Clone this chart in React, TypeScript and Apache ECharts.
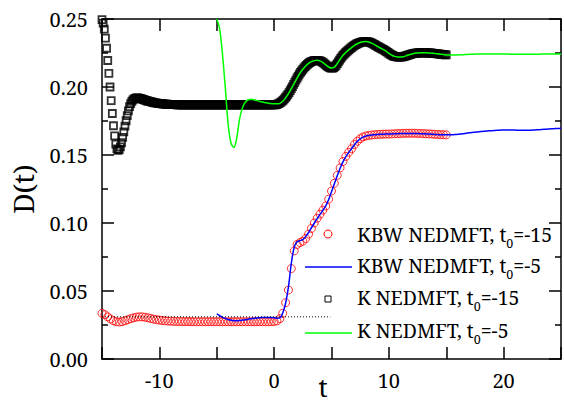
import React, { useEffect, useRef } from "react";
import * as echarts from "echarts";

const X_LABELS = [-10, 0, 10, 20];
const FONT = "Noto Serif";

// K NEDMFT, t0=-15 : t from -15 to 15, step 0.1
const K15_START = -15;
const K15_STEP = 0.1;
const K15_VALUES = [
  0.2495, 0.2470, 0.2425, 0.2360, 0.2285, 0.2195, 0.2100, 0.2000, 0.1900, 0.1805,
  0.1715, 0.1640, 0.1580, 0.1545, 0.1535, 0.1540, 0.1560, 0.1590, 0.1630, 0.1670,
  0.1712, 0.1752, 0.1790, 0.1825, 0.1855, 0.1878, 0.1895, 0.1906, 0.1913, 0.1917,
  0.1919, 0.1919, 0.1918, 0.1916, 0.1914, 0.1911, 0.1908, 0.1905, 0.1902, 0.1899,
  0.1897, 0.1894, 0.1892, 0.1890, 0.1888, 0.1886, 0.1884, 0.1883, 0.1881, 0.1880,
  0.1879, 0.1878, 0.1877, 0.1876, 0.1875, 0.1874, 0.1873, 0.1873, 0.1872, 0.1872,
  0.1871, 0.1871, 0.1870, 0.1870, 0.1870, 0.1869, 0.1869, 0.1869, 0.1869, 0.1868,
  0.1868, 0.1868, 0.1868, 0.1868, 0.1868, 0.1868, 0.1868, 0.1868, 0.1868, 0.1868,
  0.1868, 0.1868, 0.1868, 0.1868, 0.1868, 0.1868, 0.1868, 0.1868, 0.1868, 0.1868,
  0.1868, 0.1868, 0.1868, 0.1868, 0.1868, 0.1868, 0.1868, 0.1868, 0.1868, 0.1868,
  0.1868, 0.1868, 0.1868, 0.1868, 0.1868, 0.1868, 0.1868, 0.1868, 0.1868, 0.1868,
  0.1868, 0.1868, 0.1868, 0.1868, 0.1868, 0.1868, 0.1868, 0.1868, 0.1868, 0.1868,
  0.1868, 0.1868, 0.1868, 0.1868, 0.1868, 0.1868, 0.1868, 0.1868, 0.1868, 0.1868,
  0.1868, 0.1868, 0.1868, 0.1868, 0.1868, 0.1868, 0.1868, 0.1868, 0.1868, 0.1868,
  0.1868, 0.1868, 0.1868, 0.1868, 0.1868, 0.1868, 0.1868, 0.1868, 0.1868, 0.1868,
  0.1868, 0.1869, 0.1871, 0.1874, 0.1878, 0.1883, 0.1889, 0.1896, 0.1904, 0.1913,
  0.1923, 0.1934, 0.1946, 0.1959, 0.1973, 0.1988, 0.2003, 0.2019, 0.2035, 0.2051,
  0.2066, 0.2080, 0.2094, 0.2107, 0.2119, 0.2130, 0.2140, 0.2150, 0.2159, 0.2167,
  0.2174, 0.2180, 0.2185, 0.2189, 0.2192, 0.2194, 0.2196, 0.2196, 0.2196, 0.2194,
  0.2192, 0.2188, 0.2183, 0.2177, 0.2170, 0.2163, 0.2156, 0.2150, 0.2145, 0.2141,
  0.2139, 0.2139, 0.2143, 0.2150, 0.2160, 0.2172, 0.2185, 0.2198, 0.2210, 0.2222,
  0.2233, 0.2242, 0.2250, 0.2258, 0.2266, 0.2273, 0.2280, 0.2287, 0.2294, 0.2300,
  0.2306, 0.2311, 0.2316, 0.2320, 0.2324, 0.2327, 0.2330, 0.2332, 0.2333, 0.2334,
  0.2334, 0.2333, 0.2332, 0.2330, 0.2327, 0.2323, 0.2319, 0.2314, 0.2309, 0.2304,
  0.2299, 0.2294, 0.2289, 0.2285, 0.2281, 0.2276, 0.2271, 0.2266, 0.2260, 0.2254,
  0.2248, 0.2242, 0.2237, 0.2232, 0.2228, 0.2225, 0.2223, 0.2221, 0.2220, 0.2220,
  0.2220, 0.2221, 0.2222, 0.2224, 0.2227, 0.2229, 0.2232, 0.2235, 0.2238, 0.2240,
  0.2243, 0.2245, 0.2247, 0.2248, 0.2249, 0.2250, 0.2251, 0.2252, 0.2252, 0.2252,
  0.2252, 0.2252, 0.2252, 0.2251, 0.2251, 0.2250, 0.2250, 0.2249, 0.2248, 0.2247,
  0.2246, 0.2245, 0.2244, 0.2243, 0.2242, 0.2241, 0.2240, 0.2239, 0.2238, 0.2237,
  0.2236,
];

// K NEDMFT, t0=-5 : t from -5 to 25, step 0.25
const K5_START = -5;
const K5_STEP = 0.25;
const K5_VALUES = [
  0.2500, 0.2430, 0.2240, 0.1990, 0.1720, 0.1585, 0.1555, 0.1630, 0.1770, 0.1850,
  0.1890, 0.1906, 0.1910, 0.1906, 0.1900, 0.1894, 0.1889, 0.1885, 0.1881, 0.1878,
  0.1876, 0.1876, 0.1880, 0.1895, 0.1920, 0.1952, 0.1988, 0.2027, 0.2066, 0.2101,
  0.2130, 0.2155, 0.2174, 0.2187, 0.2194, 0.2196, 0.2192, 0.2180, 0.2163, 0.2147,
  0.2139, 0.2146, 0.2172, 0.2204, 0.2233, 0.2254, 0.2273, 0.2290, 0.2306, 0.2318,
  0.2327, 0.2333, 0.2334, 0.2331, 0.2323, 0.2312, 0.2299, 0.2287, 0.2276, 0.2263,
  0.2248, 0.2235, 0.2225, 0.2221, 0.2220, 0.2223, 0.2229, 0.2237, 0.2243, 0.2248,
  0.2250, 0.2252, 0.2252, 0.2251, 0.2250, 0.2249, 0.2246, 0.2244, 0.2241, 0.2239,
  0.2236, 0.2235, 0.2235, 0.2235, 0.2236, 0.2237, 0.2238, 0.2239, 0.2240, 0.2241,
  0.2242, 0.2242, 0.2243, 0.2243, 0.2243, 0.2243, 0.2243, 0.2243, 0.2243, 0.2243,
  0.2243, 0.2242, 0.2242, 0.2241, 0.2241, 0.2240, 0.2240, 0.2240, 0.2240, 0.2240,
  0.2241, 0.2241, 0.2241, 0.2242, 0.2242, 0.2242, 0.2242, 0.2243, 0.2243, 0.2243,
  0.2243,
];

// KBW NEDMFT, t0=-15 : t from -15 to 15, step 0.25
const KBW15_START = -15;
const KBW15_STEP = 0.25;
const KBW15_VALUES = [
  0.0336, 0.0326, 0.0310, 0.0294, 0.0281, 0.0274, 0.0272, 0.0275, 0.0281, 0.0289,
  0.0297, 0.0303, 0.0308, 0.0310, 0.0310, 0.0307, 0.0303, 0.0298, 0.0293, 0.0289,
  0.0286, 0.0283, 0.0281, 0.0279, 0.0278, 0.0277, 0.0276, 0.0276, 0.0275, 0.0275,
  0.0275, 0.0275, 0.0274, 0.0274, 0.0274, 0.0274, 0.0274, 0.0274, 0.0274, 0.0274,
  0.0274, 0.0274, 0.0274, 0.0274, 0.0274, 0.0274, 0.0274, 0.0274, 0.0274, 0.0274,
  0.0274, 0.0274, 0.0274, 0.0274, 0.0274, 0.0274, 0.0274, 0.0274, 0.0274, 0.0275,
  0.0276, 0.0280, 0.0296, 0.0336, 0.0414, 0.0507, 0.0665, 0.0795, 0.0842, 0.0856,
  0.0866, 0.0886, 0.0918, 0.0960, 0.1000, 0.1035, 0.1065, 0.1095, 0.1125, 0.1175,
  0.1235, 0.1292, 0.1350, 0.1405, 0.1452, 0.1490, 0.1520, 0.1546, 0.1577, 0.1601,
  0.1620, 0.1633, 0.1640, 0.1644, 0.1647, 0.1649, 0.1651, 0.1652, 0.1653, 0.1654,
  0.1654, 0.1655, 0.1656, 0.1657, 0.1658, 0.1659, 0.1660, 0.1660, 0.1660, 0.1660,
  0.1659, 0.1658, 0.1657, 0.1656, 0.1655, 0.1654, 0.1652, 0.1651, 0.1650, 0.1649,
  0.1648,
];

// KBW NEDMFT, t0=-5 : t from -5 to 25, step 0.25
const KBW5_START = -5;
const KBW5_STEP = 0.25;
const KBW5_VALUES = [
  0.0331, 0.0318, 0.0306, 0.0297, 0.0290, 0.0285, 0.0282, 0.0281, 0.0283, 0.0286,
  0.0289, 0.0293, 0.0296, 0.0299, 0.0302, 0.0304, 0.0306, 0.0306, 0.0306, 0.0305,
  0.0303, 0.0300, 0.0302, 0.0338, 0.0410, 0.0530, 0.0705, 0.0822, 0.0862, 0.0870,
  0.0878, 0.0900, 0.0930, 0.0965, 0.0998, 0.1032, 0.1063, 0.1094, 0.1126, 0.1172,
  0.1230, 0.1288, 0.1347, 0.1402, 0.1450, 0.1488, 0.1519, 0.1546, 0.1576, 0.1600,
  0.1619, 0.1632, 0.1640, 0.1644, 0.1647, 0.1649, 0.1651, 0.1652, 0.1653, 0.1654,
  0.1654, 0.1655, 0.1656, 0.1657, 0.1658, 0.1659, 0.1659, 0.1659, 0.1659, 0.1659,
  0.1658, 0.1657, 0.1656, 0.1655, 0.1654, 0.1653, 0.1651, 0.1650, 0.1649, 0.1648,
  0.1648, 0.1648, 0.1649, 0.1650, 0.1652, 0.1654, 0.1657, 0.1660, 0.1663, 0.1666,
  0.1668, 0.1670, 0.1672, 0.1674, 0.1676, 0.1678, 0.1679, 0.1681, 0.1682, 0.1683,
  0.1684, 0.1684, 0.1684, 0.1683, 0.1683, 0.1682, 0.1682, 0.1682, 0.1682, 0.1682,
  0.1683, 0.1684, 0.1686, 0.1687, 0.1689, 0.1690, 0.1692, 0.1693, 0.1694, 0.1695,
  0.1696,
];

// dotted reference level
const REF_T = [-15, 4.9];
const REF_D = [0.031, 0.031];

const LEGEND_LABELS = [
  ["KBW NEDMFT, t", "0", "=-15"],
  ["KBW NEDMFT, t", "0", "=-5"],
  ["K NEDMFT, t", "0", "=-15"],
  ["K NEDMFT, t", "0", "=-5"],
];

const pairs = (start: number, step: number, vals: number[]) =>
  vals.map((v, i) => [Math.round((start + step * i) * 1000) / 1000, v]);

export default function App() {
  const ref = useRef<HTMLDivElement>(null);
  useEffect(() => {
    if (!ref.current) return;
    const chart = echarts.init(ref.current, null, { renderer: "svg" });
    const axisLine = { show: true, onZero: false, lineStyle: { color: "#000", width: 1.5 } };
    const axisTick = { show: true, inside: true, length: 12, lineStyle: { color: "#000", width: 1.5 } };
    const minorTick = { show: true, splitNumber: 2, length: 6, lineStyle: { color: "#000", width: 1.5 } };
    const xBase = { type: "value", min: -15, max: 25, interval: 5, axisLine, axisTick, splitLine: { show: false } };
    const yBase = { type: "value", min: 0, max: 0.25, interval: 0.05, axisLine, axisTick, minorTick, splitLine: { show: false }, minorSplitLine: { show: false } };
    const rich = {
      a: { fontSize: 19.5, fontFamily: FONT, fill: "#000", lineHeight: 31 },
      s: { fontSize: 12.5, fontFamily: FONT, fill: "#000", verticalAlign: "bottom" },
    };
    const rowsY = [234.1, 265.7, 297.4, 330.7];
    const legendTexts = LEGEND_LABELS.map((l, i) => ({
      type: "text",
      x: 357,
      y: rowsY[i],
      style: {
        text: `{a|${l[0]}}{s|${l[1]}}{a|${l[2]}}`,
        rich,
        fontFamily: FONT,
        align: "left",
        verticalAlign: "middle",
      },
    }));
    const option: any = {
      animation: false,
      backgroundColor: "#fff",
      textStyle: { fontFamily: FONT },
      grid: { left: 102, right: 1, top: 19, bottom: 46 },
      xAxis: [
        {
          ...xBase,
          position: "bottom",
          axisLabel: {
            show: true,
            margin: 11.5,
            fontSize: 20,
            color: "#000",
            fontFamily: FONT,
            formatter: (v: number) => (X_LABELS.includes(Math.round(v)) && Math.abs(v - Math.round(v)) < 1e-6 ? String(Math.round(v)) : ""),
          },
        },
        { ...xBase, position: "top", axisLabel: { show: false } },
      ],
      yAxis: [
        {
          ...yBase,
          position: "left",
          axisLabel: {
            show: true,
            margin: 14,
            fontSize: 20,
            color: "#000",
            fontFamily: FONT,
            formatter: (v: number) => v.toFixed(2),
          },
        },
        { ...yBase, position: "right", axisLabel: { show: false } },
      ],
      series: [
        {
          name: "KBW NEDMFT, t0=-15",
          type: "scatter",
          data: pairs(KBW15_START, KBW15_STEP, KBW15_VALUES),
          symbol: "circle",
          symbolSize: 8,
          itemStyle: { color: "rgba(0,0,0,0)", borderColor: "#ff0000", borderWidth: 1 },
          z: 2,
        },
        {
          name: "KBW NEDMFT, t0=-5",
          type: "line",
          data: pairs(KBW5_START, KBW5_STEP, KBW5_VALUES),
          symbol: "none",
          smooth: 0.3,
          lineStyle: { color: "#0000ff", width: 1.5 },
          z: 3,
        },
        {
          name: "K NEDMFT, t0=-15",
          type: "scatter",
          data: pairs(K15_START, K15_STEP, K15_VALUES),
          symbol: "rect",
          symbolSize: 7,
          itemStyle: { color: "rgba(255,255,255,0)", borderColor: "#000", borderWidth: 1.8 },
          z: 4,
        },
        {
          name: "K NEDMFT, t0=-5",
          type: "line",
          data: pairs(K5_START, K5_STEP, K5_VALUES),
          symbol: "none",
          smooth: 0.3,
          lineStyle: { color: "#00ff00", width: 1.5 },
          z: 5,
        },
        {
          name: "ref",
          type: "line",
          data: REF_T.map((t, i) => [t, REF_D[i]]),
          symbol: "none",
          lineStyle: { color: "#000", width: 1, type: [1, 2] },
          z: 6,
        },
      ],
      graphic: [
        { type: "circle", shape: { cx: 328, cy: 234, r: 4 }, style: { fill: "none", stroke: "#ff0000", lineWidth: 1 } },
        { type: "line", shape: { x1: 305, y1: 267, x2: 352, y2: 267 }, style: { stroke: "#0000ff", lineWidth: 1.5 } },
        { type: "rect", shape: { x: 325, y: 296, width: 6, height: 6 }, style: { fill: "#fff", stroke: "#000", lineWidth: 1 } },
        { type: "line", shape: { x1: 305, y1: 333, x2: 352, y2: 333 }, style: { stroke: "#00ff00", lineWidth: 1.5 } },
        ...legendTexts,
        {
          type: "text",
          x: 23,
          y: 189,
          rotation: Math.PI / 2,
          style: { text: "D(t)", fontSize: 28, fontFamily: FONT, fill: "#000", align: "center", verticalAlign: "middle" },
        },
        {
          type: "text",
          x: 323,
          y: 387,
          style: { text: "t", fontSize: 26, lineHeight: 22, fontFamily: FONT, fill: "#000", align: "center", verticalAlign: "middle" },
        },
      ],
    };
    chart.setOption(option);
    return () => chart.dispose();
  }, []);
  return (
    <div
      ref={ref}
      style={{ position: "fixed", left: 0, top: 0, width: 564, height: 405, background: "#fff" }}
    />
  );
}
